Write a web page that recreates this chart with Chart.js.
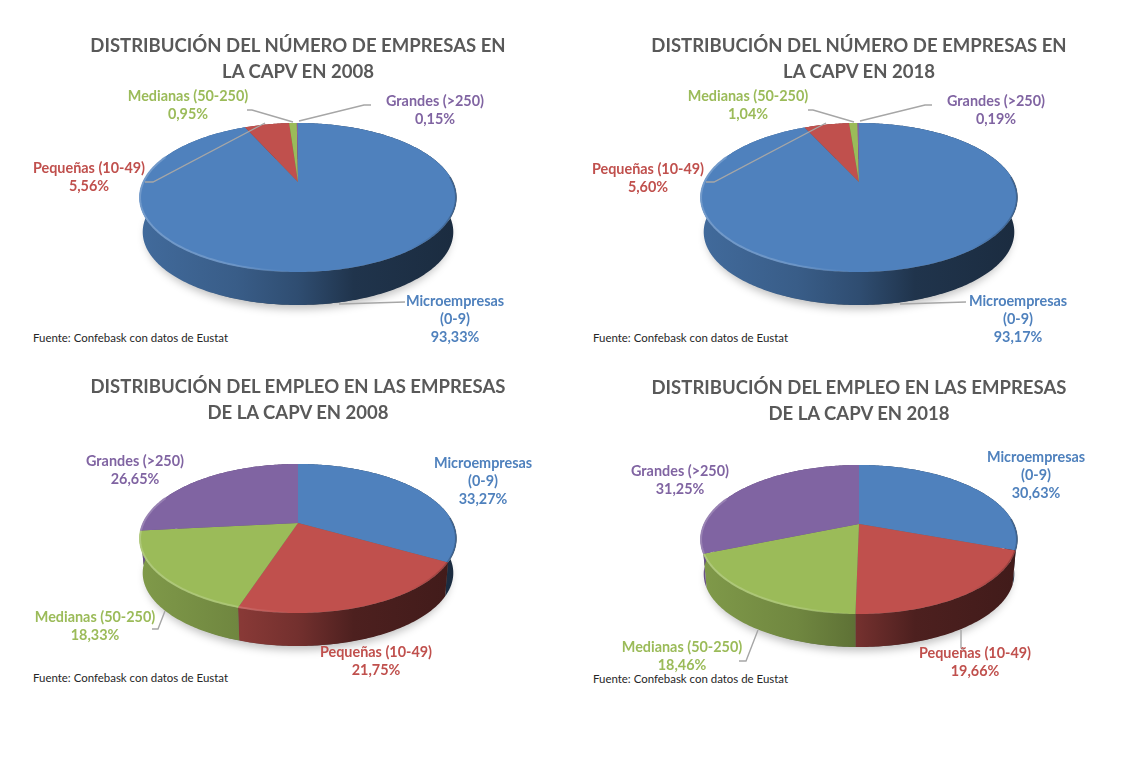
<!DOCTYPE html>
<html lang="es">
<head>
    <meta charset="UTF-8">
    <title>Distribución de empresas y empleo en la CAPV</title>
    <style>
        body {
            margin: 0;
            background: #fff;
            width: 1131px;
            height: 762px;
            overflow: hidden;
            position: relative;
            font-family: Lato, sans-serif;
        }
        canvas {
            position: absolute;
            left: 0;
            top: 0;
            filter: blur(0.35px);
        }
        .titulo {
            position: absolute;
            width: 520px;
            margin: 0;
            text-align: center;
            font-size: 18.55px;
            line-height: 26px;
            font-weight: bold;
            color: #595959;
            filter: blur(0.35px);
        }
        .fuente {
            position: absolute;
            margin: 0;
            font-size: 11.45px;
            line-height: 14px;
            color: #262626;
        }
    </style>
    <script src="https://cdn.jsdelivr.net/npm/chart.js"></script>
</head>
<body>
    <h2 class="titulo" style="left:38px;top:32px">DISTRIBUCIÓN DEL NÚMERO DE EMPRESAS EN<br>LA CAPV EN 2008</h2>
    <h2 class="titulo" style="left:599px;top:32px">DISTRIBUCIÓN DEL NÚMERO DE EMPRESAS EN<br>LA CAPV EN 2018</h2>
    <h2 class="titulo" style="left:38px;top:373px">DISTRIBUCIÓN DEL EMPLEO EN LAS EMPRESAS<br>DE LA CAPV EN 2008</h2>
    <h2 class="titulo" style="left:599px;top:374px">DISTRIBUCIÓN DEL EMPLEO EN LAS EMPRESAS<br>DE LA CAPV EN 2018</h2>
    <p class="fuente" style="left:33px;top:331px">Fuente: Confebask con datos de Eustat</p>
    <p class="fuente" style="left:593px;top:331px">Fuente: Confebask con datos de Eustat</p>
    <p class="fuente" style="left:33px;top:671px">Fuente: Confebask con datos de Eustat</p>
    <p class="fuente" style="left:593px;top:672px">Fuente: Confebask con datos de Eustat</p>

    <canvas id="empresas2008" width="1131" height="762"></canvas>
    <canvas id="empresas2018" width="1131" height="762"></canvas>
    <canvas id="empleo2008" width="1131" height="762"></canvas>
    <canvas id="empleo2018" width="1131" height="762"></canvas>

    <script>
        // Datos
        const categories = [['Microempresas', '(0-9)'], 'Pequeñas (10-49)', 'Medianas (50-250)', 'Grandes (>250)'];
        const empresas2008 = [93.33, 5.56, 0.95, 0.15];
        const empresas2018 = [93.17, 5.60, 1.04, 0.19];
        const empleo2008 = [33.27, 21.75, 18.33, 26.65];
        const empleo2018 = [30.63, 19.66, 18.46, 31.25];
        const colors = ['#4F81BD', '#C0504D', '#9BBB59', '#8064A2'];

        // Perspectiva del disco
        const PERSP = 0.208;
        const RATIO_Y = 0.46;
        const DEPTH = 0.2245;
        const BOTTOM_SCALE = 0.98;

        function rimPoint(cx, y0, a, b, theta) {
            const w = 1 + PERSP * Math.cos(theta);
            return [cx + a * Math.sin(theta) / w, y0 - b * Math.cos(theta) / w];
        }

        function shade(hex, f) {
            const n = parseInt(hex.slice(1), 16);
            const r = Math.round((n >> 16) * f);
            const g = Math.round(((n >> 8) & 255) * f);
            const b = Math.round((n & 255) * f);
            return `rgb(${r},${g},${b})`;
        }

        function lighten(hex, f, alpha) {
            const n = parseInt(hex.slice(1), 16);
            const mix = v => Math.round(v + (255 - v) * f);
            return `rgba(${mix(n >> 16)},${mix((n >> 8) & 255)},${mix(n & 255)},${alpha})`;
        }

        function tracePoints(ctx, pts, start) {
            pts.forEach((p, i) => {
                if (i === 0 && start) ctx.moveTo(p[0], p[1]);
                else ctx.lineTo(p[0], p[1]);
            });
        }

        function arcPoints(cx, y0, a, b, t1, t2) {
            const pts = [];
            const steps = Math.max(2, Math.ceil(Math.abs(t2 - t1) / 0.015));
            for (let i = 0; i <= steps; i++) {
                pts.push(rimPoint(cx, y0, a, b, t1 + (t2 - t1) * i / steps));
            }
            return pts;
        }

        // Tarta 3D: usa los angulos que calcula Chart.js para cada sector
        const pie3d = {
            id: 'pie3d',
            beforeDatasetDraw(chart) {
                const ctx = chart.ctx;
                const arcs = chart.getDatasetMeta(0).data;
                const cx = arcs[0].x;
                const cy = arcs[0].y;
                const R = arcs[0].outerRadius;
                const bA = R * BOTTOM_SCALE;
                const bB = R * RATIO_Y * BOTTOM_SCALE;
                const bY = cy + R * DEPTH;
                const tB = R * RATIO_Y;

                // sombra bajo la base
                ctx.save();
                ctx.shadowColor = 'rgba(0,0,0,0.25)';
                ctx.shadowBlur = 9;
                ctx.shadowOffsetY = 4;
                ctx.fillStyle = '#666';
                ctx.beginPath();
                tracePoints(ctx, arcPoints(cx, bY, bA * 0.98, bB, 0, Math.PI * 2), true);
                ctx.closePath();
                ctx.fill();
                ctx.restore();

                // lateral
                arcs.forEach((arc, i) => {
                    const t1 = arc.startAngle + Math.PI / 2;
                    const t2 = arc.endAngle + Math.PI / 2;
                    const base = colors[i];
                    const grad = ctx.createLinearGradient(cx - R, 0, cx + R, 0);
                    grad.addColorStop(0, shade(base, 0.82));
                    grad.addColorStop(0.3, shade(base, 0.72));
                    grad.addColorStop(0.5, shade(base, 0.6));
                    grad.addColorStop(0.68, shade(base, 0.4));
                    grad.addColorStop(1, shade(base, 0.34));
                    ctx.fillStyle = grad;
                    ctx.beginPath();
                    tracePoints(ctx, arcPoints(cx, cy, R, tB, t1, t2), true);
                    tracePoints(ctx, arcPoints(cx, bY, bA, bB, t2, t1), false);
                    ctx.closePath();
                    ctx.fill();
                });

                // cara superior
                arcs.forEach((arc, i) => {
                    const t1 = arc.startAngle + Math.PI / 2;
                    const t2 = arc.endAngle + Math.PI / 2;
                    ctx.fillStyle = arc.options.backgroundColor;
                    ctx.beginPath();
                    ctx.moveTo(cx, cy);
                    tracePoints(ctx, arcPoints(cx, cy, R, tB, t1, t2), false);
                    ctx.closePath();
                    ctx.fill();

                    // brillo del borde delantero
                    const from = Math.max(t1, 1.5);
                    const to = Math.min(t2, 5.1);
                    if (to > from) {
                        const edge = arcPoints(cx, cy, R - 0.5, tB - 0.5, from, to);
                        const shine = ctx.createLinearGradient(cx - R, 0, cx + R, 0);
                        shine.addColorStop(0, lighten(colors[i], 0.22, 0.9));
                        shine.addColorStop(0.3, lighten(colors[i], 0.2, 0.8));
                        shine.addColorStop(0.48, lighten(colors[i], 0.15, 0));
                        shine.addColorStop(0.85, 'rgba(0,0,0,0)');
                        shine.addColorStop(1, 'rgba(0,0,0,0.22)');
                        ctx.strokeStyle = shine;
                        ctx.lineWidth = 2;
                        ctx.beginPath();
                        tracePoints(ctx, edge, true);
                        ctx.stroke();
                    }
                });
                return false;
            },
            afterDraw(chart, args, opts) {
                const ctx = chart.ctx;
                const values = chart.data.datasets[0].data;

                ctx.save();
                ctx.strokeStyle = '#A6A6A6';
                ctx.lineWidth = 1.4;
                opts.leaders.forEach(line => {
                    ctx.beginPath();
                    tracePoints(ctx, line, true);
                    ctx.stroke();
                });

                ctx.font = 'bold 14.4px Lato, sans-serif';
                ctx.textAlign = 'center';
                ctx.textBaseline = 'middle';
                chart.data.labels.forEach((label, i) => {
                    const lines = [].concat(label, values[i].toFixed(2).replace('.', ',') + '%');
                    ctx.fillStyle = colors[i];
                    lines.forEach((text, j) => {
                        ctx.fillText(text, opts.labelX[i], opts.labelY[i] + j * 18.3);
                    });
                });
                ctx.restore();
            }
        };

        function makePie(id, values, cx, cy, labelX, labelY, leaders) {
            const R = 155;
            return new Chart(document.getElementById(id), {
                type: 'pie',
                data: {
                    labels: categories,
                    datasets: [{
                        data: values,
                        backgroundColor: colors,
                        borderWidth: 0
                    }]
                },
                options: {
                    responsive: false,
                    animation: false,
                    events: [],
                    layout: {
                        padding: {
                            left: cx - R,
                            right: 1131 - cx - R,
                            top: cy - R,
                            bottom: 762 - cy - R
                        }
                    },
                    plugins: {
                        legend: { display: false },
                        tooltip: { enabled: false },
                        pie3d: { labelX, labelY, leaders }
                    }
                },
                plugins: [pie3d]
            });
        }

        makePie('empresas2008', empresas2008, 298, 182,
            [455, 89, 188, 435], [301, 168, 96, 101],
            [
                [[339, 304], [405, 302]],
                [[145, 182], [153, 182], [265, 123]],
                [[247, 110], [252, 110], [293, 122]],
                [[299, 121], [364, 105], [371, 105]]
            ]);

        makePie('empresas2018', empresas2018, 859, 182,
            [1018, 648, 748, 996], [301, 169, 96, 101],
            [
                [[900, 304], [966, 302]],
                [[706, 182], [714, 182], [826, 123]],
                [[808, 110], [813, 110], [854, 122]],
                [[860, 121], [925, 105], [932, 105]]
            ]);

        makePie('empleo2008', empleo2008, 298, 523,
            [483, 376, 95, 135], [463, 652, 617, 461],
            [
                [[152, 629], [158, 629], [165, 611]]
            ]);

        makePie('empleo2018', empleo2018, 859, 524,
            [1036, 975, 682, 680], [457, 653, 647, 471],
            [
                [[739, 661], [746, 661], [758, 630]],
                [[961, 630], [961, 648], [964, 650]]
            ]);
    </script>
</body>
</html>
